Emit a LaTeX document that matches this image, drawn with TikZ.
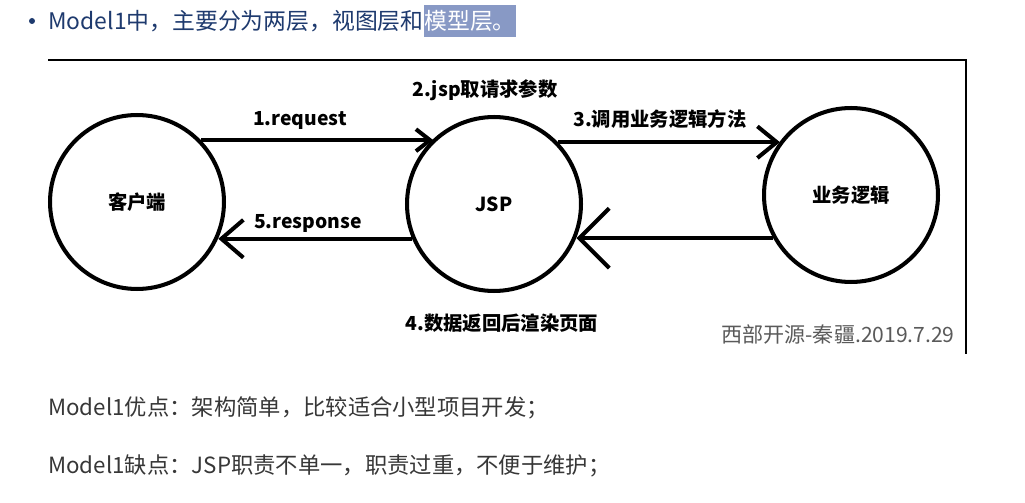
\documentclass[tikz,border=0pt]{standalone}
\usepackage{fontspec}
\setmainfont{Noto Sans CJK SC}
\usetikzlibrary{arrows.meta}
\definecolor{headBlue}{RGB}{30,58,110}
\definecolor{markBlue}{RGB}{136,153,197}
\definecolor{bodyGray}{RGB}{55,55,55}
\definecolor{stampGray}{RGB}{90,90,90}

\begin{document}
\begin{tikzpicture}[x=0.02cm, y=-0.02cm,
  ball/.style={circle, draw, line width=2.3pt, minimum size=3.48cm, inner sep=0pt,
    font=\bfseries\fontsize{11}{13}\selectfont},
  flow/.style={line width=2.3pt},
  tag/.style={font=\bfseries\fontsize{11}{13}\selectfont},
  plain/.style={anchor=west, inner sep=0pt}]
  \fill[white] (0,0) rectangle (1025,503);
  \useasboundingbox (0,0) rectangle (1025,503);

  % heading line
  \fill[headBlue] (32,21) circle (3);
  \node[plain, text=headBlue, font=\fontsize{13}{15}\selectfont] (head) at (48,21)
    {Model1中，主要分为两层，视图层和};
  \node[anchor=base west, inner xsep=0pt, inner ysep=3pt, fill=markBlue, text=white,
    font=\fontsize{13}{15}\selectfont] (mark) at (head.base east) {模型层。};

  % frame of the picture
  \draw[line width=1pt] (48,60) -- (966,60) -- (966,354);

  \node[ball] (cli) at (137,202) {客户端};
  \node[ball] (jsp) at (494,204) {JSP};
  \node[ball] (biz) at (851,195) {业务逻辑};

  \draw[flow, -{Straight Barb[length=8pt, width=12.5pt]}] (cli.44) -- (cli.44 -| jsp.133);
  \draw[flow, -{Straight Barb[length=11pt, width=18pt]}] (jsp.44) -- (jsp.44 -| biz.143);
  \draw[flow, -{Straight Barb[length=17pt, width=34pt]}] (biz.209) -- (biz.209 -| jsp.-22);
  \draw[flow, -{Straight Barb[length=12.5pt, width=21.5pt]}] (jsp.203) -- (jsp.203 -| cli.-24);

  \node[tag] (req) at (300,120) {1.request};
  \node[tag] (take) at (485,90) {2.jsp取请求参数};
  \node[tag] (call) at (660,119) {3.调用业务逻辑方法};
  \node[tag] (back) at (502,323) {4.数据返回后渲染页面};
  \node[tag] (resp) at (308,223) {5.response};
  \node[anchor=east, inner sep=0pt, text=stampGray, font=\fontsize{12}{14}\selectfont]
    (stamp) at (955,334) {西部开源-秦疆.2019.7.29};

  % notes below
  \node[plain, text=bodyGray, font=\fontsize{12.7}{15}\selectfont] (pro) at (48,408)
    {Model1优点：架构简单，比较适合小型项目开发；};
  \node[plain, text=bodyGray, font=\fontsize{12.7}{15}\selectfont] (con) at (48,466)
    {Model1缺点：JSP职责不单一，职责过重，不便于维护；};
\end{tikzpicture}
\end{document}
